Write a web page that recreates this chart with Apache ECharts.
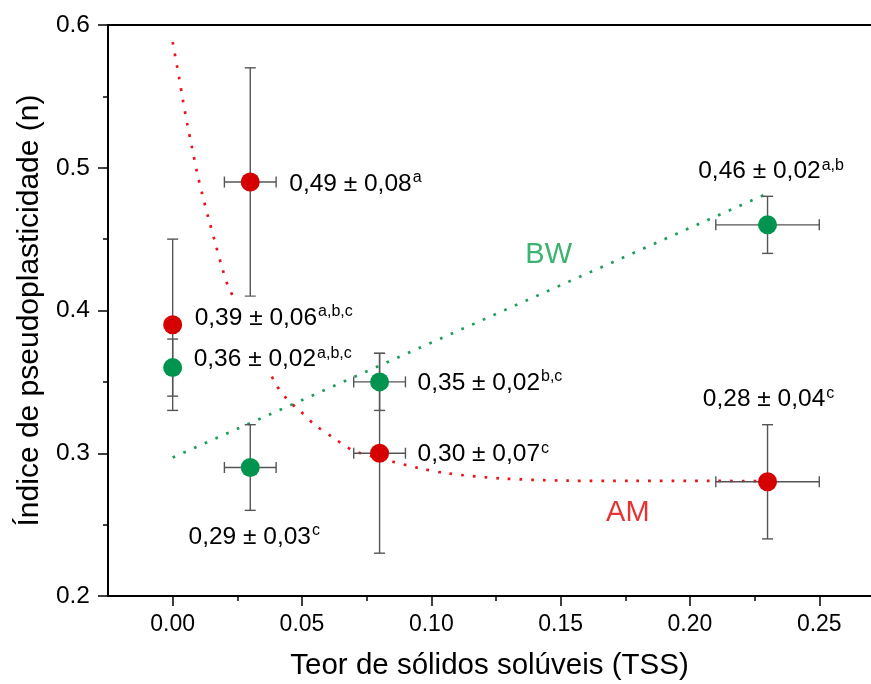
<!DOCTYPE html>
<html>
<head>
<meta charset="utf-8">
<script src="https://cdn.jsdelivr.net/npm/echarts@6/dist/echarts.min.js"></script>
<style>
html,body{margin:0;padding:0;background:#fff;}
#chart{width:871px;height:684px;}
</style>
</head>
<body>
<div id="chart"></div>
<script>
// ---- data ----
const amX = [0, 0.03, 0.08, 0.23];
const amY = [0.39, 0.49, 0.30, 0.28];
const amXErr = [0, 0.01, 0.01, 0.02];
const amYErr = [0.06, 0.08, 0.07, 0.04];
const amText = ['0,39 ± 0,06', '0,49 ± 0,08', '0,30 ± 0,07', '0,28 ± 0,04'];
const amSup = ['a,b,c', 'a', 'c', 'c'];

const bwX = [0, 0.03, 0.08, 0.23];
const bwY = [0.36, 0.29, 0.35, 0.46];
const bwXErr = [0, 0.01, 0.01, 0.02];
const bwYErr = [0.02, 0.03, 0.02, 0.02];
const bwText = ['0,36 ± 0,02', '0,29 ± 0,03', '0,35 ± 0,02', '0,46 ± 0,02'];
const bwSup = ['a,b,c', 'c', 'b,c', 'a,b'];

// fitted trend curves
const amFitX = [0, 0.0025, 0.004, 0.0057, 0.0075, 0.0094, 0.0115, 0.0138, 0.0162, 0.0188, 0.0214, 0.0233, 0.0394, 0.0446, 0.0491, 0.0549, 0.062, 0.0697, 0.080, 0.0955, 0.1058, 0.1265, 0.1523, 0.178, 0.2088, 0.23];
const amFitY = [0.588, 0.563, 0.547, 0.530, 0.514, 0.497, 0.481, 0.465, 0.449, 0.432, 0.417, 0.410, 0.350, 0.337, 0.330, 0.320, 0.311, 0.302, 0.2965, 0.2895, 0.286, 0.2824, 0.2808, 0.2806, 0.2806, 0.2805];
const bwFitX = [0, 0.23];
const bwFitY = [0.297, 0.482];

const xTickLabels = [0, 0.05, 0.10, 0.15, 0.20, 0.25];
const yTickLabels = [0.2, 0.3, 0.4, 0.5, 0.6];

const seriesNames = ['AM', 'BW'];
const noteX = [0.176, 0.1454];
const noteY = [0.258, 0.439];

// ---- layout (label placement, pixels) ----
const amLabelLayout = [
  {position: 'right', distance: 10.5, offset: [0, -7], pad: [7, 2, 7, 2]},
  {position: 'right', distance: 29.5, offset: [0, 2]},
  {position: 'right', distance: 28.5, offset: [0, 1]},
  {position: 'top', distance: 59, offset: [1, 0]}
];
const bwLabelLayout = [
  {position: 'right', distance: 9.5, offset: [0, -10.5], pad: [6, 2, 2, 2]},
  {position: 'bottom', distance: 46, offset: [4, 0]},
  {position: 'right', distance: 28.5, offset: [0, 1]},
  {position: 'top', distance: 30, offset: [3.5, 0]}
];

const RED = '#D50000';
const GREEN = '#00944F';
const FONT = '"Liberation Sans", Arial, sans-serif';

function pointData(xs, ys, texts, sups, layout) {
  return xs.map((x, i) => ({
    value: [x, ys[i]],
    label: {
      show: true,
      position: layout[i].position,
      distance: layout[i].distance,
      offset: layout[i].offset,
      formatter: '{v|' + texts[i] + '}{s|' + sups[i] + '}',
      backgroundColor: layout[i].pad ? '#fff' : 'transparent',
      padding: layout[i].pad || 0
    }
  }));
}
function errData(xs, ys, xe, ye) {
  return xs.map((x, i) => [x, ys[i], xe[i], ye[i]]);
}
const richLabel = {
  v: {fontSize: 24.5, fontFamily: FONT, color: '#000', lineHeight: 28},
  s: {fontSize: 16, fontFamily: FONT, color: '#000', lineHeight: 16, verticalAlign: 'top', padding: [0, 0, 0, 1]}
};

function renderErr(params, api) {
  const x = api.value(0), y = api.value(1), xe = api.value(2), ye = api.value(3);
  const top = api.coord([x, y + ye]);
  const bot = api.coord([x, y - ye]);
  const cap = 5.5;
  const style = {stroke: '#555', lineWidth: 1.4};
  const children = [
    {type: 'line', shape: {x1: top[0], y1: top[1], x2: bot[0], y2: bot[1]}, style},
    {type: 'line', shape: {x1: top[0] - cap, y1: top[1], x2: top[0] + cap, y2: top[1]}, style},
    {type: 'line', shape: {x1: bot[0] - cap, y1: bot[1], x2: bot[0] + cap, y2: bot[1]}, style}
  ];
  if (xe > 0) {
    const l = api.coord([x - xe, y]);
    const r = api.coord([x + xe, y]);
    children.push(
      {type: 'line', shape: {x1: l[0], y1: l[1], x2: r[0], y2: r[1]}, style},
      {type: 'line', shape: {x1: l[0], y1: l[1] - cap, x2: l[0], y2: l[1] + cap}, style},
      {type: 'line', shape: {x1: r[0], y1: r[1] - cap, x2: r[0], y2: r[1] + cap}, style}
    );
  }
  return {type: 'group', children};
}

const chart = echarts.init(document.getElementById('chart'), null, {renderer: 'canvas'});
const axisLineStyle = {color: '#000', width: 2};

const option = {
  animation: false,
  backgroundColor: '#fff',
  grid: {left: 108, right: 0, top: 25, bottom: 88, containLabel: false, outerBoundsMode: 'none'},
  xAxis: [
    {
      type: 'value', min: -0.025, max: 0.27, interval: 0.025,
      position: 'bottom',
      name: 'Teor de sólidos solúveis (TSS)', nameLocation: 'middle', nameGap: 55,
      nameTextStyle: {fontSize: 29.5, fontFamily: FONT, color: '#000'},
      axisLine: {show: true, onZero: false, lineStyle: axisLineStyle},
      axisTick: {show: true, inside: false, length: 5, lineStyle: {color: '#000', width: 1.5}},
      axisLabel: {
        show: true, margin: 17, fontSize: 23, fontFamily: FONT, color: '#000',
        showMinLabel: false, showMaxLabel: false,
        formatter: v => xTickLabels.some(t => Math.abs(t - v) < 1e-9) ? v.toFixed(2) : ''
      },
      splitLine: {show: false}
    },
    {
      type: 'value', min: -0.025, max: 0.27,
      position: 'bottom',
      axisLine: {show: false, onZero: false},
      axisTick: {show: true, inside: false, length: 10, customValues: xTickLabels, lineStyle: {color: '#000', width: 1.5}},
      axisLabel: {show: false, customValues: xTickLabels},
      splitLine: {show: false}
    },
    {
      type: 'value', min: -0.025, max: 0.27,
      position: 'top',
      axisLine: {show: true, onZero: false, lineStyle: axisLineStyle},
      axisTick: {show: false}, axisLabel: {show: false}, splitLine: {show: false}
    }
  ],
  yAxis: [
    {
      type: 'value', min: 0.2, max: 0.6, interval: 0.1,
      name: 'Índice de pseudoplasticidade (n)', nameLocation: 'middle', nameGap: 63,
      nameTextStyle: {fontSize: 30, fontFamily: FONT, color: '#000'},
      axisLine: {show: true, onZero: false, lineStyle: axisLineStyle},
      axisTick: {show: true, inside: false, length: 10, lineStyle: {color: '#000', width: 1.5}},
      minorTick: {show: true, splitNumber: 2, length: 5, lineStyle: {color: '#000', width: 1.5}},
      axisLabel: {margin: 18, fontSize: 24.5, fontFamily: FONT, color: '#000', formatter: v => v.toFixed(1)},
      splitLine: {show: false}
    }
  ],
  series: [
    {
      name: seriesNames[0] + ' fit', type: 'line', data: amFitX.map((x, i) => [x, amFitY[i]]),
      smooth: 0.3, showSymbol: false, symbol: 'none', z: 2,
      lineStyle: {color: '#E8141B', width: 2.7, type: [2.7, 9], cap: 'butt'}
    },
    {
      name: seriesNames[1] + ' fit', type: 'line', data: bwFitX.map((x, i) => [x, bwFitY[i]]),
      showSymbol: false, symbol: 'none', z: 2,
      lineStyle: {color: '#1E9C5A', width: 2.7, type: [2.7, 9], cap: 'butt'}
    },
    {
      type: 'custom', renderItem: renderErr, data: errData(amX, amY, amXErr, amYErr), z: 3,
      encode: {x: 0, y: 1}
    },
    {
      type: 'custom', renderItem: renderErr, data: errData(bwX, bwY, bwXErr, bwYErr), z: 3,
      encode: {x: 0, y: 1}
    },
    {
      name: seriesNames[0], type: 'scatter', symbol: 'circle', symbolSize: 19, z: 5,
      itemStyle: {color: RED, opacity: 1},
      label: {rich: richLabel},
      data: pointData(amX, amY, amText, amSup, amLabelLayout)
    },
    {
      name: seriesNames[1], type: 'scatter', symbol: 'circle', symbolSize: 19, z: 5,
      itemStyle: {color: GREEN, opacity: 1},
      label: {rich: richLabel},
      data: pointData(bwX, bwY, bwText, bwSup, bwLabelLayout)
    },
    {
      type: 'scatter', symbolSize: 0, z: 6, silent: true,
      data: seriesNames.map((n, i) => ({
        value: [noteX[i], noteY[i]],
        label: {
          show: true, position: 'inside', formatter: n,
          fontSize: 29, fontFamily: FONT, color: i === 0 ? '#E00000' : '#0AA04E'
        }
      }))
    }
  ]
};
chart.setOption(option);
</script>
</body>
</html>
